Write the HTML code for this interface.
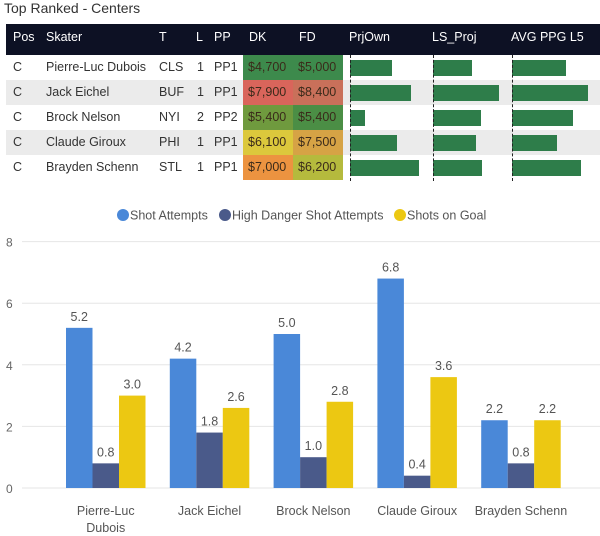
<!DOCTYPE html>
<html><head><meta charset="utf-8"><style>
body{margin:0;width:600px;height:536px;background:#fff;font-family:"Liberation Sans",sans-serif;overflow:hidden;position:relative}
.a{position:absolute;white-space:nowrap}
.t{font-size:12.5px;color:#333}
</style></head><body>
<div class="a" style="left:4px;top:0px;font-size:14px;color:#333">Top Ranked - Centers</div>
<div id="tbl"></div>
<svg id="chart" width="600" height="536" style="position:absolute;left:0;top:0"></svg>
<script>
const skaters=["Pierre-Luc Dubois","Jack Eichel","Brock Nelson","Claude Giroux","Brayden Schenn"];
const teams=["CLS","BUF","NYI","PHI","STL"];
const lines=["1","1","2","1","1"];
const pps=["PP1","PP1","PP2","PP1","PP1"];
const dk=["$4,700","$7,900","$5,400","$6,100","$7,000"];
const fd=["$5,000","$8,400","$5,400","$7,500","$6,200"];
const dkColors=["#3d8a4c","#d9655b","#6f9a3e","#dcc83c","#ec9340"];
const fdColors=["#3d8a4c","#c9705a","#4b8e45","#d6a345","#b5ba3d"];
const prjOwn=[42,61,15,47,69];
const lsProj=[39,66,48,43,49];
const avgPpg=[54,76,61,45,69];
const categories=["Pierre-Luc Dubois","Jack Eichel","Brock Nelson","Claude Giroux","Brayden Schenn"];
const shotAttempts=[5.2,4.2,5.0,6.8,2.2];
const highDanger=[0.8,1.8,1.0,0.4,0.8];
const shotsOnGoal=[3.0,2.6,2.8,3.6,2.2];
const yTicks=[0,2,4,6,8];

const tbl=document.getElementById('tbl');
function div(style,text,name){const d=document.createElement('div');d.className='a t';d.style.cssText=style;if(text!==undefined)d.textContent=text;


tbl.appendChild(d);return d;}
div('left:6px;top:24px;width:594px;height:31px;background:#0d1124','',"table-header");
const hdr=[["Pos",13],["Skater",46],["T",159],["L",196],["PP",214],["DK",249],["FD",299],["PrjOwn",349],["LS_Proj",432],["AVG PPG L5",511]];
hdr.forEach(h=>{const d=div('left:'+h[1]+'px;top:30px;color:#fff;font-size:12.5px',h[0],'header-'+h[0].toLowerCase().replace(/[^a-z0-9]+/g,'-'));});
for(let i=0;i<5;i++){
 const top=55+i*25;
 if(i%2==1) div('left:6px;top:'+top+'px;width:594px;height:25px;background:#ebebeb','','row-stripe');
 div('left:243px;top:'+top+'px;width:50px;height:25px;background:'+dkColors[i],'','dk-cell');
 div('left:293px;top:'+top+'px;width:50px;height:25px;background:'+fdColors[i],'','fd-cell');
 const ty=top+5;
 div('left:13px;top:'+ty+'px','C','pos-cell');
 div('left:46px;top:'+ty+'px',skaters[i],'skater-name');
 div('left:159px;top:'+ty+'px',teams[i],'team-cell');
 div('left:197px;top:'+ty+'px',lines[i],'line-cell');
 div('left:214px;top:'+ty+'px',pps[i],'pp-cell');
 div('left:248px;top:'+ty+'px;color:#3a2a1a',dk[i],'dk-price');
 div('left:298px;top:'+ty+'px;color:#3a2a1a',fd[i],'fd-price');
 [[prjOwn,350],[lsProj,433],[avgPpg,512]].forEach((c,k)=>{
  div('left:'+c[1]+'px;top:'+(top+5)+'px;width:'+c[0][i]+'px;height:16px;background:#2e7d4a','',['prjown-bar','ls-proj-bar','avg-ppg-bar'][k]);
 });
}
[350,433,512].forEach(x=>div('left:'+x+'px;top:55px;width:0;height:126px;border-left:1.5px dashed #222','','column-divider'));

const svg=document.getElementById('chart');const NS='http://www.w3.org/2000/svg';
function el(t,a,name){const e=document.createElementNS(NS,t);for(const k in a)e.setAttribute(k,a[k]);


svg.appendChild(e);return e;}
const y0=488,pxPer=30.8,catW=103.8,barW=26.5,firstX=66;
const yS=v=>y0-v*pxPer;
yTicks.forEach(v=>{el('line',{x1:22,x2:600,y1:yS(v),y2:yS(v),stroke:'#e6e6e6'},'gridline');
 const t=el('text',{x:6,y:yS(v)+5,'font-size':12,fill:'#666','font-family':'Liberation Sans'},'y-tick-label');t.textContent=v;});
const series=[[shotAttempts,'#4a88d8'],[highDanger,'#4a5a8a'],[shotsOnGoal,'#ecc812']];
categories.forEach((c,i)=>{
 const gx=firstX+catW*i;
 series.forEach((s,k)=>{const v=s[0][i];const x=gx+k*barW;
  el('rect',{x:x,y:yS(v),width:barW,height:v*pxPer,fill:s[1]},['bar-shot-attempts','bar-high-danger','bar-shots-on-goal'][k]);
  const t=el('text',{x:x+barW/2,y:yS(v)-7,'text-anchor':'middle','font-size':12.5,fill:'#555','font-family':'Liberation Sans'},'data-label');t.textContent=v.toFixed(1);});
 const cx=gx+barW*1.5;
 const parts=c==="Pierre-Luc Dubois"?["Pierre-Luc","Dubois"]:[c];
 parts.forEach((p,j)=>{const t=el('text',{x:cx,y:515+j*17,'text-anchor':'middle','font-size':12.5,fill:'#555','font-family':'Liberation Sans'},'x-tick-label');t.textContent=p;});
});
const leg=[["Shot Attempts",123,'#4a88d8'],["High Danger Shot Attempts",225,'#4a5a8a'],["Shots on Goal",400,'#ecc812']];
leg.forEach(l=>{el('circle',{cx:l[1],cy:215,r:6,fill:l[2]},'legend-marker');
 const t=el('text',{x:l[1]+7,y:219.5,'font-size':12.5,fill:'#555','font-family':'Liberation Sans'},'legend-entry');t.textContent=l[0];});
</script>
</body></html>
